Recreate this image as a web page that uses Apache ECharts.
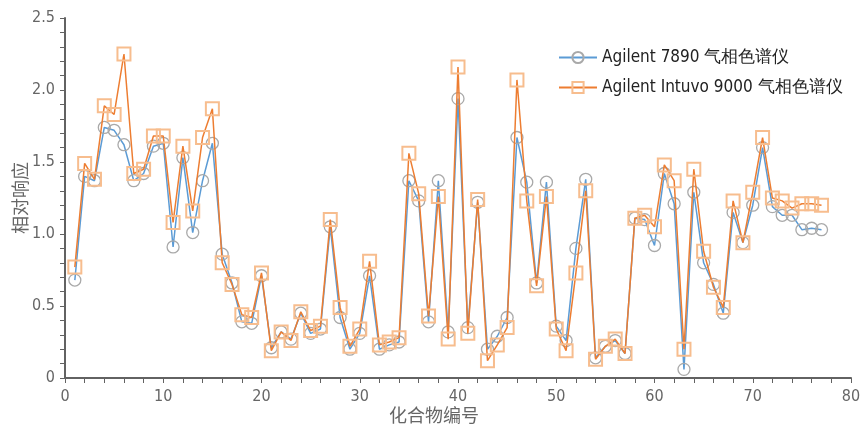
<!DOCTYPE html>
<html>
<head>
<meta charset="utf-8">
<script src="https://cdn.jsdelivr.net/npm/echarts@6/dist/echarts.min.js"></script>
<style>html,body{margin:0;padding:0;background:#fff;}#c{width:862px;height:424px;}</style>
</head>
<body>
<div id="c"></div>
<script>
var compounds = [];
for (var i = 1; i <= 77; i++) compounds.push(i);
var gc7890 = [0.68,1.40,1.37,1.74,1.72,1.62,1.37,1.42,1.61,1.63,
  0.91,1.53,1.01,1.37,1.63,0.86,0.66,0.39,0.38,0.71,
  0.21,0.32,0.27,0.45,0.31,0.34,1.05,0.42,0.20,0.31,
  0.71,0.20,0.23,0.25,1.37,1.23,0.39,1.37,0.32,1.94,
  0.35,1.22,0.20,0.29,0.42,1.67,1.36,0.66,1.36,0.36,
  0.26,0.90,1.38,0.14,0.22,0.26,0.17,1.11,1.10,0.92,
  1.42,1.21,0.06,1.29,0.80,0.65,0.45,1.15,0.94,1.20,
  1.60,1.19,1.13,1.13,1.03,1.04,1.03];
var gc9000 = [0.77,1.49,1.38,1.89,1.83,2.25,1.42,1.45,1.68,1.68,
  1.08,1.61,1.16,1.67,1.87,0.80,0.65,0.44,0.42,0.73,
  0.19,0.32,0.26,0.46,0.33,0.36,1.10,0.49,0.22,0.34,
  0.81,0.23,0.25,0.28,1.56,1.28,0.43,1.26,0.27,2.16,
  0.31,1.24,0.12,0.23,0.35,2.07,1.23,0.64,1.26,0.34,
  0.19,0.73,1.30,0.13,0.22,0.27,0.17,1.11,1.13,1.05,
  1.48,1.37,0.20,1.45,0.88,0.63,0.49,1.23,0.94,1.29,
  1.67,1.25,1.23,1.18,1.21,1.21,1.20];
var seriesNames = ['Agilent 7890 气相色谱仪', 'Agilent Intuvo 9000 气相色谱仪'];

function pairs(vals){ return vals.map(function(v,i){ return [compounds[i], v]; }); }

var labelFont = '"Liberation Sans Narrow","DejaVu Sans Condensed","Roboto",sans-serif';
var chart = echarts.init(document.getElementById('c'), null, {renderer:'canvas'});
chart.setOption({
  animation: false,
  backgroundColor: '#fff',
  grid: {left: 65, right: 11, top: 18, bottom: 46, containLabel: false, outerBoundsMode: 'none'},
  legend: {
    orient: 'vertical', left: 553, top: 44, itemWidth: 38, itemHeight: 14, itemGap: 13,
    textStyle: {fontFamily: labelFont, fontSize: 17, color: '#222'},
    data: seriesNames
  },
  xAxis: {
    type: 'value', min: 0, max: 80, interval: 10,
    name: '化合物编号', nameLocation: 'middle', nameGap: 28, nameMoveOverlap: false,
    nameTextStyle: {fontFamily: '"Noto Sans CJK SC",sans-serif', fontSize: 18, color: '#666', padding: [0, 48, 0, 0]},
    axisLine: {show: true, lineStyle: {color: '#626262', width: 2}},
    axisTick: {show: true, length: 5, lineStyle: {color: '#626262'}},
    minorTick: {show: true, splitNumber: 5, length: 5, lineStyle: {color: '#626262'}},
    splitLine: {show: false},
    axisLabel: {fontFamily: labelFont, fontSize: 16, color: '#666', margin: 11}
  },
  yAxis: {
    type: 'value', min: 0, max: 2.5, interval: 0.5,
    name: '相对响应', nameLocation: 'middle', nameGap: 36, nameRotate: 90, nameMoveOverlap: false,
    nameTextStyle: {fontFamily: '"Noto Sans CJK SC",sans-serif', fontSize: 18, color: '#666'},
    axisLine: {show: true, lineStyle: {color: '#626262', width: 2}},
    axisTick: {show: true, length: 5, lineStyle: {color: '#626262'}},
    minorTick: {show: true, splitNumber: 5, length: 5, lineStyle: {color: '#626262'}},
    splitLine: {show: false},
    axisLabel: {fontFamily: labelFont, fontSize: 16, color: '#666', margin: 10,
      formatter: function(v){ return v === 0 ? '0' : v.toFixed(1); }}
  },
  series: [
    {
      name: seriesNames[0], type: 'line', data: pairs(gc7890),
      symbol: 'circle', symbolSize: 12, showAllSymbol: true,
      lineStyle: {color: '#5b9bd5', width: 1.5},
      itemStyle: {color: 'rgba(255,255,255,0)', borderColor: '#a9a9a9', borderWidth: 1.3},
      z: 2
    },
    {
      name: seriesNames[1], type: 'line', data: pairs(gc9000),
      symbol: 'rect', symbolSize: 13, showAllSymbol: true,
      lineStyle: {color: '#ed7d31', width: 1.5},
      itemStyle: {color: 'rgba(255,255,255,0)', borderColor: '#f7bd8e', borderWidth: 2},
      z: 3
    }
  ]
});
</script>
</body>
</html>
